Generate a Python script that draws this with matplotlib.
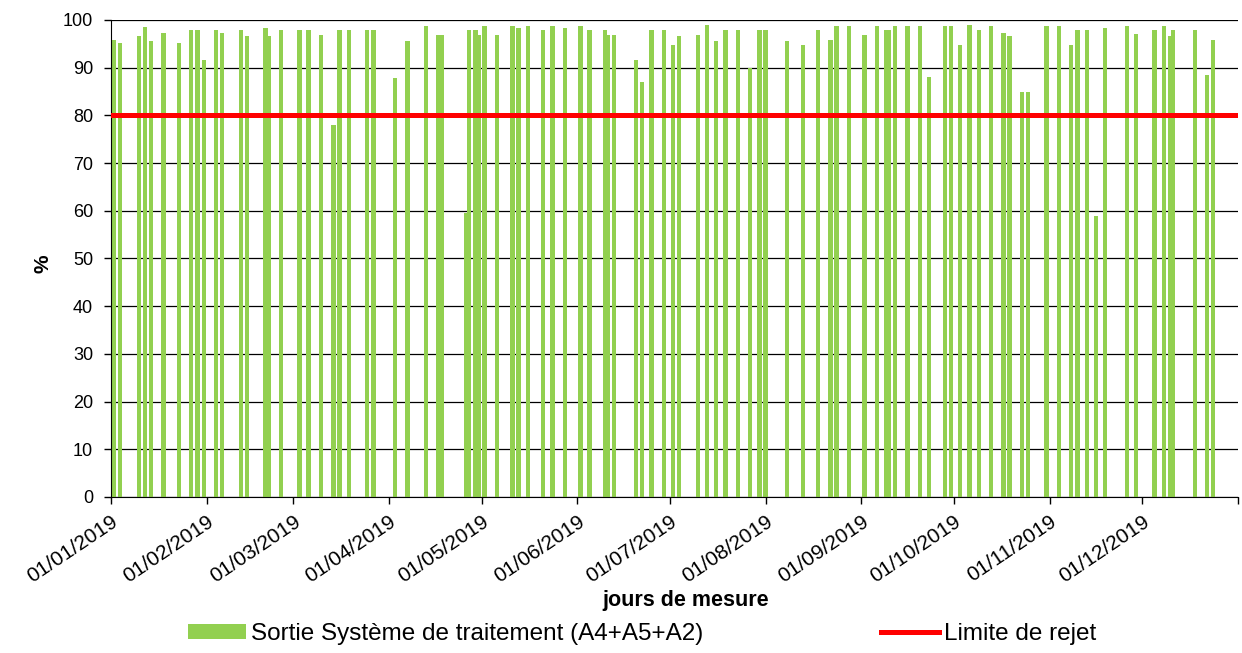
import pandas as pd
import matplotlib
matplotlib.use('Agg')
import matplotlib.pyplot as plt
import matplotlib.dates as mdates

plt.rcParams['font.family'] = ['Liberation Sans', 'DejaVu Sans']

# measurement days and values (%)
dates = [
    '2019-01-02', '2019-01-04', '2019-01-10', '2019-01-12', '2019-01-14', '2019-01-18', '2019-01-23', '2019-01-27',
    '2019-01-29', '2019-01-31', '2019-02-04', '2019-02-06', '2019-02-12', '2019-02-14', '2019-02-20', '2019-02-21',
    '2019-02-25', '2019-03-03', '2019-03-06', '2019-03-10', '2019-03-14', '2019-03-16', '2019-03-19', '2019-03-25',
    '2019-03-27', '2019-04-03', '2019-04-07', '2019-04-13', '2019-04-17', '2019-04-18', '2019-04-26', '2019-04-27',
    '2019-04-29', '2019-04-30', '2019-05-02', '2019-05-06', '2019-05-11', '2019-05-13', '2019-05-16', '2019-05-21',
    '2019-05-24', '2019-05-28', '2019-06-02', '2019-06-05', '2019-06-10', '2019-06-11', '2019-06-13', '2019-06-20',
    '2019-06-22', '2019-06-25', '2019-06-29', '2019-07-02', '2019-07-04', '2019-07-10', '2019-07-13', '2019-07-16',
    '2019-07-19', '2019-07-23', '2019-07-27', '2019-07-30', '2019-08-01', '2019-08-08', '2019-08-13', '2019-08-18',
    '2019-08-22', '2019-08-24', '2019-08-28', '2019-09-02', '2019-09-06', '2019-09-09', '2019-09-10', '2019-09-12',
    '2019-09-16', '2019-09-20', '2019-09-23', '2019-09-28', '2019-09-30', '2019-10-03', '2019-10-06', '2019-10-09',
    '2019-10-13', '2019-10-17', '2019-10-19', '2019-10-23', '2019-10-25', '2019-10-31', '2019-11-04', '2019-11-08',
    '2019-11-10', '2019-11-13', '2019-11-16', '2019-11-19', '2019-11-26', '2019-11-29', '2019-12-05', '2019-12-08',
    '2019-12-10', '2019-12-11', '2019-12-18', '2019-12-22', '2019-12-24',
]
sortie = [
    95.7, 95.1, 96.6, 98.6, 95.5, 97.3, 95.2, 97.8, 97.8, 91.6,
    97.8, 97.3, 97.8, 96.6, 98.3, 96.6, 97.8, 98.0, 97.8, 96.9,
    78.0, 98.0, 98.0, 98.0, 98.0, 87.8, 95.5, 98.7, 96.9, 96.9,
    59.5, 98.0, 97.8, 96.9, 98.7, 96.9, 98.7, 98.3, 98.7, 97.8,
    98.7, 98.3, 98.7, 97.9, 97.9, 96.9, 96.9, 91.6, 87.1, 97.9,
    97.9, 94.8, 96.6, 96.9, 99.0, 95.5, 97.8, 97.8, 89.9, 97.8,
    97.8, 95.5, 94.8, 97.8, 95.7, 98.7, 98.7, 96.9, 98.7, 98.0,
    97.8, 98.7, 98.7, 98.7, 88.1, 98.7, 98.7, 94.8, 99.0, 97.8,
    98.7, 97.2, 96.6, 85.0, 85.0, 98.7, 98.7, 94.8, 97.8, 97.8,
    59.0, 98.3, 98.7, 97.1, 98.0, 98.7, 96.6, 97.8, 97.8, 88.5,
    95.7,
]
limite = 80
x_start = '2019-01-01'
x_end = '2020-01-01'

x = pd.to_datetime(dates)

fig = plt.figure(figsize=(12.42, 6.53), dpi=100)
ax = fig.add_axes([0.0894, 0.2389, 0.9074, 0.7305])

bars = ax.bar(x, sortie, width=1.4, color='#92d050', label='Sortie Système de traitement (A4+A5+A2)', zorder=2)
red = ax.axhline(limite, color='#ff0000', linewidth=3.6, label='Limite de rejet', zorder=3)

ax.set_xlim(pd.Timestamp(x_start), pd.Timestamp(x_end))
ax.set_ylim(0, 100)
ax.set_yticks(range(0, 101, 10))
ax.xaxis.set_major_locator(mdates.MonthLocator())
fmt = mdates.DateFormatter('%d/%m/%Y')
# no label on the closing tick (01/01/2020)
ax.xaxis.set_major_formatter(lambda v, pos: '' if mdates.num2date(v).year > 2019 else fmt(v))

ax.set_axisbelow(True)
ax.grid(axis='y', color='black', linewidth=0.9)
ax.spines['top'].set_visible(False)
ax.spines['right'].set_visible(False)
ax.tick_params(axis='both', length=5, width=1, labelsize=13)
ax.tick_params(axis='y', pad=8)
ax.tick_params(axis='x', labelsize=15, pad=6)
for lbl in ax.get_xticklabels():
    lbl.set_rotation(34)
    lbl.set_ha('right')
    lbl.set_rotation_mode('anchor')

ax.set_xlabel('jours de mesure', fontsize=15.5, fontweight='bold')
ax.xaxis.set_label_coords(0.51, -0.196)
ax.set_ylabel('%', fontsize=15, fontweight='bold')
ax.yaxis.set_label_coords(-0.052, 0.49)

fig.legend(handles=[bars, red], loc='center', bbox_to_anchor=(0.517, 0.029), ncol=2, frameon=False,
           fontsize=17.5, handlelength=2.4, handleheight=0.58, handletextpad=0.2, columnspacing=7.3)

fig.savefig('out.png', dpi=100)
